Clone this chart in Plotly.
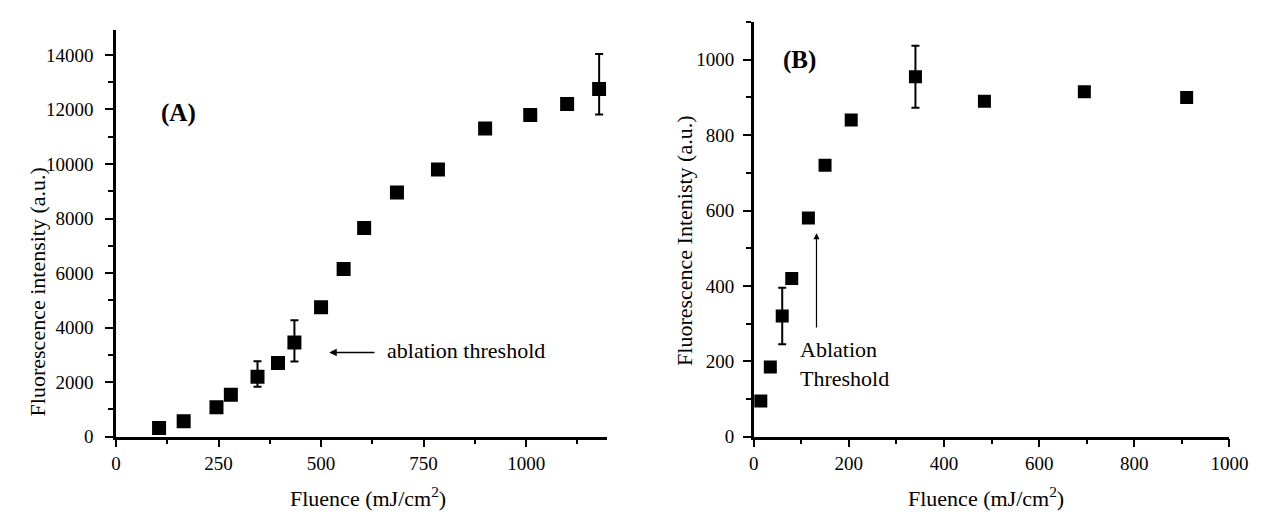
import plotly.graph_objects as go

SERIF = "Liberation Serif"
BLACK = "black"

## PANEL A DATA
a_fluence = [105, 165, 245, 280, 345, 395, 435, 500, 555, 605, 685, 785, 900, 1010, 1100, 1178]
a_intensity = [320, 570, 1080, 1540, 2200, 2700, 3450, 4750, 6150, 7650, 8950, 9800, 11300, 11800, 12200, 12750]
a_err_plus = [0, 0, 0, 0, 570, 0, 820, 0, 0, 0, 0, 0, 0, 0, 0, 1280]
a_err_minus = [0, 0, 0, 0, 370, 0, 690, 0, 0, 0, 0, 0, 0, 0, 0, 940]

## PANEL B DATA
b_fluence = [15, 35, 60, 80, 115, 150, 205, 340, 485, 695, 910]
b_intensity = [95, 185, 320, 420, 580, 720, 840, 955, 890, 915, 900]
b_err = [0, 0, 75, 0, 0, 0, 0, 82, 0, 0, 0]

a_xticks = [0, 250, 500, 750, 1000]
a_yticks = [0, 2000, 4000, 6000, 8000, 10000, 12000, 14000]
b_xticks = [0, 200, 400, 600, 800, 1000]
b_yticks = [0, 200, 400, 600, 800, 1000]

W, H = 1265, 519


def px_x(p):
    return p / W


def px_y(p):
    return (H - p) / H


ERR_STYLE = dict(type='data', symmetric=False, color=BLACK, thickness=2, width=4)

fig = go.Figure()

fig.add_trace(go.Scatter(
    x=a_fluence, y=a_intensity, mode='markers',
    marker=dict(symbol='square', size=14, color=BLACK),
    error_y=dict(array=a_err_plus, arrayminus=a_err_minus, **ERR_STYLE),
    xaxis='x', yaxis='y', showlegend=False
))

fig.add_trace(go.Scatter(
    x=b_fluence, y=b_intensity, mode='markers',
    marker=dict(symbol='square', size=13, color=BLACK),
    error_y=dict(array=b_err, arrayminus=b_err, **ERR_STYLE),
    xaxis='x2', yaxis='y2', showlegend=False
))


def axis_style(ticks, rng, domain, minor_dtick, anchor, standoff):
    return dict(
        domain=domain, range=rng, anchor=anchor,
        tickmode='array', tickvals=ticks, ticktext=[str(t) for t in ticks],
        showgrid=False, zeroline=False,
        showline=True, linecolor=BLACK, linewidth=2.5,
        ticks='outside', ticklen=8, tickwidth=2, tickcolor=BLACK,
        ticklabelstandoff=standoff,
        tickfont=dict(family=SERIF, size=19, color=BLACK),
        minor=dict(ticks='outside', ticklen=5, tickwidth=1.5, tickcolor=BLACK, dtick=minor_dtick),
    )


y_dom = [px_y(438), px_y(22)]
y2_dom = [px_y(438), px_y(14)]

fig.update_layout(
    width=W, height=H,
    paper_bgcolor='white', plot_bgcolor='white',
    margin=dict(l=0, r=0, t=0, b=0),
    xaxis=axis_style(a_xticks, [0, 1196], [px_x(105), px_x(605)], 125, 'y', 0),
    yaxis=axis_style(a_yticks, [0, 14930], y_dom, 1000, 'x', 8),
    xaxis2=axis_style(b_xticks, [0, 1000], [px_x(755), px_x(1240)], 100, 'y2', 0),
    yaxis2=axis_style(b_yticks, [0, 1101], y2_dom, 100, 'x2', 5),
)

title_font = dict(family=SERIF, size=22, color=BLACK)
note_font = dict(family=SERIF, size=22, color=BLACK)

annotations = [
    # axis titles
    dict(text='Fluorescence intensity (a.u.)', x=px_x(25), y=px_y(290), textangle=-90),
    dict(text='Fluence (mJ/cm<sup>2</sup>)', x=px_x(362), y=px_y(500)),
    dict(text='Fluorescence Intenisty (a.u.)', x=px_x(685), y=px_y(238), textangle=-90),
    dict(text='Fluence (mJ/cm<sup>2</sup>)', x=px_x(992), y=px_y(500)),
]
for a in annotations:
    a.update(xref='paper', yref='paper', xanchor='center', yanchor='middle',
             showarrow=False, font=title_font)

annotations += [
    dict(text='<b>(A)</b>', x=153, y=11860, xref='x', yref='y', showarrow=False,
         font=dict(family=SERIF, size=25, color=BLACK)),
    dict(text='<b>(B)</b>', x=97, y=1000, xref='x2', yref='y2', showarrow=False,
         font=dict(family=SERIF, size=25, color=BLACK)),
    dict(text='ablation threshold', x=655, y=3160, xref='x', yref='y', xanchor='left',
         yanchor='middle', showarrow=False, font=note_font),
    dict(text='', x=520, y=3090, ax=634, ay=3090, xref='x', yref='y', axref='x', ayref='y',
         showarrow=True, arrowhead=2, arrowsize=1, arrowwidth=1.5, arrowcolor=BLACK),
    dict(text='Ablation<br>Threshold', x=93, y=192, xref='x2', yref='y2', xanchor='left',
         yanchor='middle', align='left', showarrow=False, font=note_font),
    dict(text='', x=132, y=540, ax=132, ay=286, xref='x2', yref='y2', axref='x2', ayref='y2',
         showarrow=True, arrowhead=2, arrowsize=1, arrowwidth=1.2, arrowcolor=BLACK),
]

fig.update_layout(annotations=annotations)

fig.write_html("out.html")
